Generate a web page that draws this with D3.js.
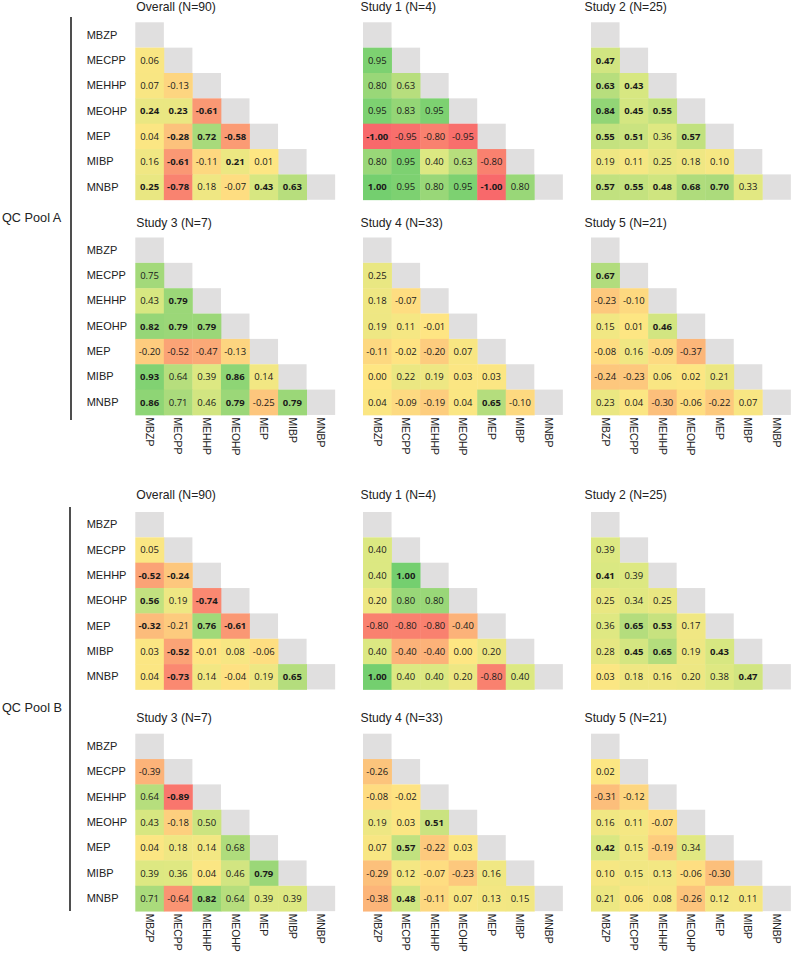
<!DOCTYPE html>
<html><head><meta charset="utf-8">
<script src="https://cdn.jsdelivr.net/npm/d3@7"></script>
<style>body{margin:0;background:#fff}</style>
</head><body>
<svg id="chart" width="795" height="953"></svg>
<script>
// ---------------- DATA ----------------
const metabolites = ["MBZP","MECPP","MEHHP","MEOHP","MEP","MIBP","MNBP"];
const poolNames = ["QC Pool A","QC Pool B"];
const panelTitles = ["Overall (N=90)","Study 1 (N=4)","Study 2 (N=25)","Study 3 (N=7)","Study 4 (N=33)","Study 5 (N=21)"];

// lower-triangle rows (MECPP..MNBP), columns MBZP..
const A_overall = [[0.06],[0.07,-0.13],[0.24,0.23,-0.61],[0.04,-0.28,0.72,-0.58],[0.16,-0.61,-0.11,0.21,0.01],[0.25,-0.78,0.18,-0.07,0.43,0.63]];
const A_overall_sig = [[0],[0,0],[1,1,1],[0,1,1,1],[0,1,0,1,0],[1,1,0,0,1,1]];
const A_study1 = [[0.95],[0.80,0.63],[0.95,0.83,0.95],[-1.00,-0.95,-0.80,-0.95],[0.80,0.95,0.40,0.63,-0.80],[1.00,0.95,0.80,0.95,-1.00,0.80]];
const A_study1_sig = [[0],[0,0],[0,0,0],[1,0,0,0],[0,0,0,0,0],[1,0,0,0,1,0]];
const A_study2 = [[0.47],[0.63,0.43],[0.84,0.45,0.55],[0.55,0.51,0.36,0.57],[0.19,0.11,0.25,0.18,0.10],[0.57,0.55,0.48,0.68,0.70,0.33]];
const A_study2_sig = [[1],[1,1],[1,1,1],[1,1,0,1],[0,0,0,0,0],[1,1,1,1,1,0]];
const A_study3 = [[0.75],[0.43,0.79],[0.82,0.79,0.79],[-0.20,-0.52,-0.47,-0.13],[0.93,0.64,0.39,0.86,0.14],[0.86,0.71,0.46,0.79,-0.25,0.79]];
const A_study3_sig = [[0],[0,1],[1,1,1],[0,0,0,0],[1,0,0,1,0],[1,0,0,1,0,1]];
const A_study4 = [[0.25],[0.18,-0.07],[0.19,0.11,-0.01],[-0.11,-0.02,-0.20,0.07],[0.00,0.22,0.19,0.03,0.03],[0.04,-0.09,-0.19,0.04,0.65,-0.10]];
const A_study4_sig = [[0],[0,0],[0,0,0],[0,0,0,0],[0,0,0,0,0],[0,0,0,0,1,0]];
const A_study5 = [[0.67],[-0.23,-0.10],[0.15,0.01,0.46],[-0.08,0.16,-0.09,-0.37],[-0.24,-0.23,0.06,0.02,0.21],[0.23,0.04,-0.30,-0.06,-0.22,0.07]];
const A_study5_sig = [[1],[0,0],[0,0,1],[0,0,0,0],[0,0,0,0,0],[0,0,0,0,0,0]];

const B_overall = [[0.05],[-0.52,-0.24],[0.56,0.19,-0.74],[-0.32,-0.21,0.76,-0.61],[0.03,-0.52,-0.01,0.08,-0.06],[0.04,-0.73,0.14,-0.04,0.19,0.65]];
const B_overall_sig = [[0],[1,1],[1,0,1],[1,0,1,1],[0,1,0,0,0],[0,1,0,0,0,1]];
const B_study1 = [[0.40],[0.40,1.00],[0.20,0.80,0.80],[-0.80,-0.80,-0.80,-0.40],[0.40,-0.40,-0.40,0.00,0.20],[1.00,0.40,0.40,0.20,-0.80,0.40]];
const B_study1_sig = [[0],[0,1],[0,0,0],[0,0,0,0],[0,0,0,0,0],[1,0,0,0,0,0]];
const B_study2 = [[0.39],[0.41,0.39],[0.25,0.34,0.25],[0.36,0.65,0.53,0.17],[0.28,0.45,0.65,0.19,0.43],[0.03,0.18,0.16,0.20,0.38,0.47]];
const B_study2_sig = [[0],[1,0],[0,0,0],[0,1,1,0],[0,1,1,0,1],[0,0,0,0,0,1]];
const B_study3 = [[-0.39],[0.64,-0.89],[0.43,-0.18,0.50],[0.04,0.18,0.14,0.68],[0.39,0.36,0.04,0.46,0.79],[0.71,-0.64,0.82,0.64,0.39,0.39]];
const B_study3_sig = [[0],[0,1],[0,0,0],[0,0,0,0],[0,0,0,0,1],[0,0,1,0,0,0]];
const B_study4 = [[-0.26],[-0.08,-0.02],[0.19,0.03,0.51],[0.07,0.57,-0.22,0.03],[-0.29,0.12,-0.07,-0.23,0.16],[-0.38,0.48,-0.11,0.07,0.13,0.15]];
const B_study4_sig = [[0],[0,0],[0,0,1],[0,1,0,0],[0,0,0,0,0],[0,1,0,0,0,0]];
const B_study5 = [[0.02],[-0.31,-0.12],[0.16,0.11,-0.07],[0.42,0.15,-0.19,0.34],[0.10,0.15,0.13,-0.06,-0.30],[0.21,0.06,0.08,-0.26,0.12,0.11]];
const B_study5_sig = [[0],[0,0],[0,0,0],[1,0,0,0],[0,0,0,0,0],[0,0,0,0,0,0]];

// ---------------- LAYOUT ----------------
const cellW = 28.55, cellH = 25.35;
const colX = [135.3, 363, 591];
const titleDX = [1.0, -2.5, -6.5];
const pools = [
  {name: poolNames[0], rowTops: [22.3, 237.5], titleOff: [11, 11], line: [71, 17, 420], labelY: 218,
   panels: [[A_overall,A_overall_sig],[A_study1,A_study1_sig],[A_study2,A_study2_sig],[A_study3,A_study3_sig],[A_study4,A_study4_sig],[A_study5,A_study5_sig]]},
  {name: poolNames[1], rowTops: [512, 733.7], titleOff: [13.5, 11.5], line: [70, 507, 911], labelY: 708,
   panels: [[B_overall,B_overall_sig],[B_study1,B_study1_sig],[B_study2,B_study2_sig],[B_study3,B_study3_sig],[B_study4,B_study4_sig],[B_study5,B_study5_sig]]}
];

const color = d3.scaleLinear()
  .domain([-1, -0.5, 0, 0.4, 0.7, 1])
  .range(["#f8696b", "#fba576", "#fee683", "#dce882", "#acdb7c", "#74cf6f"])
  .interpolate(d3.interpolateRgb);

const svg = d3.select("#chart");
const labelFont = "'Liberation Sans', Arial, sans-serif";
const valueFont = "'Open Sans', 'Noto Sans', sans-serif";

pools.forEach(pool => {
  svg.append("line")
    .attr("x1", pool.line[0]).attr("x2", pool.line[0])
    .attr("y1", pool.line[1]).attr("y2", pool.line[2])
    .attr("stroke", "#222").attr("stroke-width", 1.6);
  svg.append("text")
    .attr("x", 2).attr("y", pool.labelY).attr("dy", "0.35em")
    .style("font-family", labelFont).style("font-size", "12.7px").attr("fill", "#222")
    .text(pool.name);

  pool.panels.forEach(([vals, sig], p) => {
    const r = Math.floor(p / 3), c = p % 3;
    const top = pool.rowTops[r];
    const g = svg.append("g").attr("transform", `translate(${colX[c]},${top})`);
    const x = d3.scaleBand().domain(metabolites).range([0, metabolites.length * cellW]);
    const y = d3.scaleBand().domain(metabolites).range([0, metabolites.length * cellH]);

    svg.append("text")
      .attr("x", colX[c] + titleDX[c]).attr("y", top - pool.titleOff[r])
      .style("font-family", labelFont).style("font-size", "12.2px").attr("fill", "#222")
      .text(panelTitles[p]);

    g.selectAll("rect.diag").data(metabolites).join("rect")
      .attr("class", "diag")
      .attr("x", d => x(d)).attr("y", d => y(d))
      .attr("width", x.bandwidth()).attr("height", y.bandwidth())
      .attr("fill", "#e0dfdf");

    const cells = [];
    vals.forEach((row, i) => row.forEach((v, j) => {
      cells.push({row: metabolites[i + 1], col: metabolites[j], v, s: sig[i][j]});
    }));

    g.selectAll("rect.cell").data(cells).join("rect")
      .attr("class", "cell")
      .attr("x", d => x(d.col)).attr("y", d => y(d.row))
      .attr("width", x.bandwidth() + 0.4).attr("height", y.bandwidth() + 0.4)
      .attr("fill", d => color(d.v));

    g.selectAll("text.val").data(cells).join("text")
      .attr("class", "val")
      .attr("x", d => x(d.col) + x.bandwidth() / 2)
      .attr("y", d => y(d.row) + y.bandwidth() / 2)
      .attr("dy", "0.36em")
      .attr("text-anchor", "middle")
      .style("font-family", valueFont).style("font-size", "9.5px")
      .style("font-weight", d => d.s ? 700 : 400)
      .attr("fill", "#1a1a1a")
      .text(d => d.v.toFixed(2));

    if (c === 0) {
      const ax = g.append("g").call(d3.axisLeft(y).tickSize(0));
      ax.select(".domain").remove();
      ax.selectAll("text")
        .attr("x", -48.6).attr("text-anchor", "start")
        .style("font-family", labelFont).style("font-size", "11px").attr("fill", "#222");
    }
    if (r === 1) {
      const ax = g.append("g").attr("transform", `translate(0,${metabolites.length * cellH})`)
        .call(d3.axisBottom(x).tickSize(0));
      ax.select(".domain").remove();
      ax.selectAll("text")
        .attr("transform", "rotate(90)")
        .attr("x", 2.5).attr("y", 0).attr("dy", "0.35em")
        .attr("text-anchor", "start")
        .style("font-family", labelFont).style("font-size", "10.4px").attr("fill", "#222");
    }
  });
});
</script></body></html>
